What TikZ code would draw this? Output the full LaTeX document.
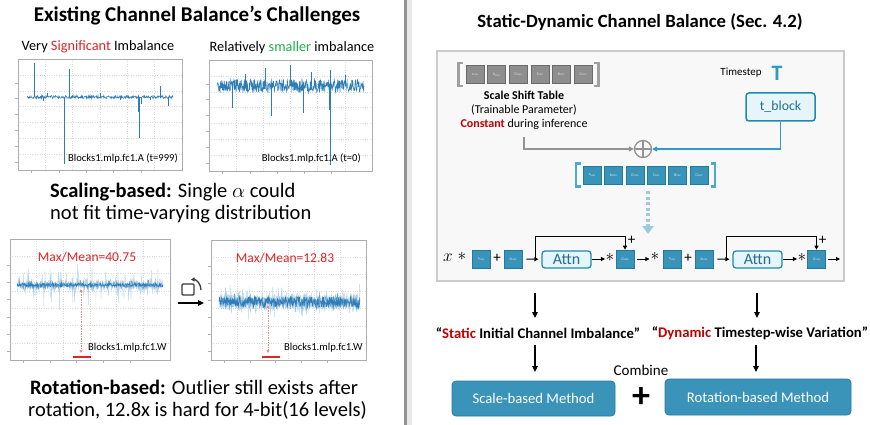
\documentclass[tikz,border=0pt]{standalone}
\usepackage{fontspec}
\setmainfont{Carlito}
\usetikzlibrary{arrows.meta,calc}
\definecolor{noiseblue}{HTML}{2F7DB8}
\definecolor{noiselight}{HTML}{B8D5E9}
\definecolor{noisemid}{HTML}{6FA7CF}
\definecolor{sigred}{HTML}{E02424}
\definecolor{darkred}{HTML}{C00000}
\definecolor{smgreen}{HTML}{22B14C}
\definecolor{boxblue}{HTML}{3A94BA}
\definecolor{boxedge}{HTML}{237A9C}
\definecolor{cyanfill}{HTML}{E6F5FA}
\definecolor{cyanedge}{HTML}{1E8BAA}
\definecolor{cyantext}{HTML}{236F8C}
\definecolor{tblue}{HTML}{2E9AC6}
\definecolor{graybox}{HTML}{8E8E8E}
\definecolor{grayedge}{HTML}{6A6A6A}
\definecolor{panelfill}{HTML}{F8F8F8}
\definecolor{paneledge}{HTML}{CBCBCB}
\definecolor{pinkarrow}{HTML}{E88A8A}
\definecolor{lightarrow}{HTML}{9ACBE3}
\newcommand\boxlab[2]{{\fontsize{4}{4}\selectfont\textit{#1}\raisebox{-0.4pt}{\fontsize{2.6}{3}\selectfont #2}}}
\newcommand\chartbox[4]{%
  \fill[white] (#1,#2) rectangle (#3,#4);
  \foreach \k in {1,...,5} {\draw[gridl] ({#1+(#3-#1)*\k/6},#2) -- ({#1+(#3-#1)*\k/6},#4);
     \draw[gray!60,line width=0.4pt] ({#1+(#3-#1)*\k/6-(#3-#1)/12},#4) -- ++(0,3);}
  \foreach \k in {1,...,6} {\draw[gridl] (#1,{#2+(#4-#2)*\k/7}) -- (#3,{#2+(#4-#2)*\k/7});
     \draw[gray!60,line width=0.4pt] (#1,{#2+(#4-#2)*\k/7+(#4-#2)/14}) -- ++(-3,0);}
}
\begin{document}
\begin{tikzpicture}[x=1pt,y=-1pt,
  gridl/.style={draw=gray!30,dotted,line width=0.4pt},
  frame/.style={draw=gray!65,line width=0.6pt},
  noise/.style={draw=noiseblue,line width=0.55pt},
  noisel/.style={draw=noiselight,line width=0.4pt},
  noisem/.style={draw=noisemid,line width=0.4pt},
  plab/.style={font=\fontsize{10.6}{12}\selectfont,inner sep=1pt},
  ratio/.style={font=\fontsize{13.5}{15}\selectfont,text=sigred},
  pinkarr/.style={draw=pinkarrow,densely dotted,line width=0.7pt,{Triangle[length=3pt,width=3pt]}-{Triangle[length=3pt,width=3pt]}},
  redbar/.style={draw=sigred,line width=1.2pt},
  bigtxt/.style={font=\fontsize{20.5}{23}\selectfont,anchor=west,inner sep=0},
  gbox/.style={draw=grayedge,fill=graybox,line width=0.6pt,minimum width=18,minimum height=18,inner sep=0,text=gray!25},
  bbox/.style={draw=boxedge,fill=boxblue,line width=0.6pt,minimum width=18,minimum height=18,inner sep=0,text=white!80!boxblue},
  cbox/.style={draw=cyanedge,fill=cyanfill,line width=1.3pt,rounded corners=3,inner sep=0,text=cyantext,font=\fontsize{16}{17}\selectfont},
  mbox/.style={draw=boxedge,fill=boxblue,line width=0.8pt,rounded corners=4,inner sep=0,text=white,font=\fontsize{14.7}{16}\selectfont},
  arr/.style={draw=black,line width=0.9pt,-{Triangle[length=4pt,width=4pt]}},
  bigarr/.style={draw=black,line width=1.2pt,-{Triangle[length=6pt,width=5.5pt]}},
  op/.style={inner sep=0,font=\fontsize{15}{16}\selectfont},
  star/.style={inner sep=0,font=\fontsize{17}{18}\selectfont},
  qtxt/.style={font=\bfseries\fontsize{14.7}{16}\selectfont,inner sep=0},
  ]
\useasboundingbox (0,0) rectangle (870,425);
\fill[white] (0,0) rectangle (870,425);
% divider
\fill[gray!18] (407,0) rectangle (411.5,425);
\draw[line width=2.2pt,color=gray!85] (405.5,0) -- (405.5,425);

% ---------- LEFT ----------
\node[font=\bfseries\fontsize{21}{24}\selectfont] (ltitle) at (197,16) {Existing Channel Balance’s Challenges};
\node[font=\fontsize{14.3}{16}\selectfont] (p1t) at (98,47) {Very \textcolor{sigred}{Significant} Imbalance};
\node[font=\fontsize{14.3}{16}\selectfont] (p2t) at (292,48) {Relatively \textcolor{smgreen}{smaller} imbalance};

% plot 1
\chartbox{18}{59}{182}{170}
\pgfmathsetseed{7}
\draw[noise] plot[domain=27:173,samples=330] (\x,{97+1.5*rand});
\foreach \xx/\yy in {34/63,69/69,64/164,139/138,138/112,141/104,160/86,168/106,47/93,100/93,120/100,150/100,43/101}
  \draw[noise] (\xx,97) -- (\xx,\yy);
\draw[frame] (18,59) rectangle (182,170);
\node[plab,anchor=east] (p1l) at (179,158) {Blocks1.mlp.fc1.A (t=999)};

% plot 2
\chartbox{209}{60}{372}{171}
\pgfmathsetseed{11}
\draw[noise] plot[domain=217:364,samples=480] (\x,{86+6.5*rand});
\foreach \xx/\yy in {232/108,271/116,303/113,330/165,329/110,265/68,290/65,330/70,245/74,311/72,345/75}
  \draw[noise] (\xx,86) -- (\xx,\yy);
\draw[frame] (209,60) rectangle (372,171);
\node[plab,anchor=east] (p2l) at (362,158) {Blocks1.mlp.fc1.A (t=0)};

% scaling text
\node[bigtxt] (sc1) at (50,192) {\textbf{Scaling-based:} Single $\alpha$ could};
\node[bigtxt] (sc2) at (50,214) {not fit time-varying distribution};

% plot 3
\chartbox{10}{239}{170}{360}
\pgfmathsetseed{5}
\draw[noisel] plot[domain=17:163,samples=480] (\x,{285+3*rand+27*rand*rand*rand});
\draw[noisem] plot[domain=17:163,samples=420] (\x,{285+6*rand*rand});
\draw[noise] plot[domain=17:163,samples=300] (\x,{285+1.8*rand});
\draw[frame] (10,239) rectangle (170,360);
\node[ratio] (r1) at (87,257) {Max/Mean=40.75};
\coordinate (a1t) at (81,289);
\coordinate (a1b) at (81,353);
\draw[pinkarr] (a1t) -- (a1b);
\draw[redbar] (73,357) -- (91,357);
\node[plab,anchor=west] (p3l) at (87,348) {Blocks1.mlp.fc1.W};

% rotation icon
\draw[line width=1.3pt,draw=gray!45!black,rounded corners=1] (182,284) rectangle (194,295);
\draw[line width=1.3pt,draw=gray!45!black,-{Triangle[length=3.5pt,width=4pt]}] (201,290) to[out=90,in=0] (191,279.5);
\coordinate (rotL) at (178,303);
\coordinate (rotR) at (204,303);
\draw[bigarr] (rotL) -- (rotR);

% plot 4
\chartbox{211}{240}{366}{360}
\pgfmathsetseed{23}
\draw[noisel] plot[domain=219:360,samples=480] (\x,{302+8*rand+20*rand*rand*rand});
\draw[noisem] plot[domain=219:360,samples=420] (\x,{302+10*rand*rand});
\draw[noise] plot[domain=219:360,samples=360] (\x,{302+5.5*rand});
\draw[frame] (211,240) rectangle (366,360);
\node[ratio] (r2) at (285,258) {Max/Mean=12.83};
\coordinate (a2t) at (268,305);
\coordinate (a2b) at (268,353);
\draw[pinkarr] (a2t) -- (a2b);
\draw[redbar] (262,357) -- (280,357);
\node[plab,anchor=west] (p4l) at (283,348) {Blocks1.mlp.fc1.W};

% rotation text
\node[bigtxt] (ro1) at (30,387) {\textbf{Rotation-based:} Outlier still exists after};
\node[bigtxt] (ro2) at (28,410) {rotation, 12.8x is hard for 4-bit(16 levels)};

% ---------- RIGHT ----------
\node[font=\bfseries\fontsize{18.7}{21}\selectfont] (rtitle) at (640,22) {Static-Dynamic Channel Balance (Sec. 4.2)};
\node[draw=paneledge,fill=panelfill,line width=1.5pt,minimum width=407,minimum height=230,inner sep=0] (panel) at (640.5,166) {};

% scale shift table
\foreach \n/\a/\b [count=\i from 0] in {g1/s/MSA,g2/b/MSA,g3/G/MSA,g4/S/MLP,g5/B/MLP,g6/G/MLP}
  \node[gbox] (\n) at ({475+21.6*\i},74.5) {\boxlab{\a}{\b}};
\draw[draw=gray!75,line width=2.5pt] (463,63) -- (458.5,63) -- (458.5,86) -- (463,86);
\draw[draw=gray!75,line width=2.5pt] (594,63) -- (598.5,63) -- (598.5,86) -- (594,86);
\node[font=\bfseries\fontsize{12}{14}\selectfont] (sst) at (524,95) {Scale Shift Table};
\node[font=\fontsize{12}{14}\selectfont] (tp) at (524,110) {(Trainable Parameter)};
\node[font=\fontsize{12}{14}\selectfont] (cdi) at (524,124.5) {\textcolor{darkred}{\bfseries Constant} during inference};

\node[font=\fontsize{11}{12}\selectfont] (ts) at (741,73) {Timestep};
\node[font=\bfseries\fontsize{22}{24}\selectfont,text=tblue] (T) at (777,73) {T};
\node[cbox,minimum width=69,minimum height=28,font=\fontsize{13.8}{15}\selectfont,line width=1.5pt] (tblock) at (780.5,107) {t\_block};

\node[circle,draw=gray!85,line width=1.3pt,minimum size=17,inner sep=0] (oplus) at (643,149) {};
\draw[draw=gray!85,line width=1.3pt] (oplus.north) -- (oplus.south) (oplus.west) -- (oplus.east);
\coordinate (gstart) at (524,137);
\draw[draw=gray!85,line width=1.5pt,-{Triangle[length=5pt,width=5pt]}] (gstart) |- (oplus.west);
\draw[draw=tblue,line width=1.5pt,-{Triangle[length=5pt,width=5pt]}] (tblock.south) |- (oplus.east);

% blue table
\foreach \n/\a/\b [count=\i from 0] in {c1/s/MSA,c2/b/MSA,c3/G/MSA,c4/S/MLP,c5/B/MLP,c6/G/MLP}
  \node[bbox] (\n) at ({592+21.4*\i},175) {\boxlab{\a}{\b}};
\draw[draw=tblue!85,line width=2.5pt] (580.5,163.5) -- (576,163.5) -- (576,186.5) -- (580.5,186.5);
\draw[draw=tblue!85,line width=2.5pt] (710.5,163.5) -- (715,163.5) -- (715,186.5) -- (710.5,186.5);
\coordinate (dtop) at (648,191);
\coordinate (dbot) at (648,234);
\draw[draw=lightarrow,line width=3.5pt,dash pattern=on 3pt off 2.5pt,-{Triangle[length=8pt,width=11pt]}] (dtop) -- (dbot);

% block row
\node[op,font=\fontsize{19}{20}\selectfont] (xv) at (448,258) {$x$};
\node[star] (st1) at (462,256) {$*$};
\node[bbox] (b1) at (481,259) {\boxlab{s}{MSA}};
\node[op] (pl1) at (497,258) {+};
\node[bbox] (b2) at (513,259) {\boxlab{b}{MSA}};
\node[cbox,minimum width=49,minimum height=17] (attn1) at (566.5,259.5) {Attn};
\node[star] (st2) at (610,257) {$*$};
\node[bbox] (b3) at (625,259) {\boxlab{G}{MSA}};
\node[star] (st3) at (655,256) {$*$};
\node[bbox] (b4) at (672,259) {\boxlab{s}{MSA}};
\node[op] (pl2) at (688,258) {+};
\node[bbox] (b5) at (704,259) {\boxlab{b}{MSA}};
\node[cbox,minimum width=49,minimum height=17] (attn2) at (757.5,259.5) {Attn};
\node[star] (st4) at (802,257) {$*$};
\node[bbox] (b6) at (816.5,259) {\boxlab{G}{MSA}};
\coordinate (rowend) at (840,259);

\draw[arr,shorten <=4pt,shorten >=3pt] (b2) -- (attn1);
\draw[arr,shorten >=0.5pt] (attn1.east |- b3) -- (st2.west |- b3);
\draw[arr,shorten <=3pt,shorten >=1pt] (b3.east) -- (st3.west |- b3);
\draw[arr,shorten <=4pt,shorten >=3pt] (b5) -- (attn2);
\draw[arr,shorten >=0.5pt] (attn2.east |- b6) -- (st4.west |- b6);
\draw[arr,shorten <=2pt] (b6) -- (rowend);
\coordinate (s1) at (535,259);
\coordinate (k1) at (535,236);
\draw[arr] (s1) -- (k1) -| (b3.north);
\coordinate (s2) at (726,259);
\coordinate (k2) at (726,236);
\draw[arr] (s2) -- (k2) -| (b6.north);
\node[op] (sp1) at (631.5,240) {+};
\node[op] (sp2) at (822.5,240) {+};

% below panel
\coordinate (u1t) at (535,293);
\coordinate (u1b) at (535,318);
\coordinate (u2t) at (757,293);
\coordinate (u2b) at (757,318);
\draw[bigarr] (u1t) -- (u1b);
\draw[bigarr] (u2t) -- (u2b);
\node[qtxt] (q1) at (538,333) {“\textcolor{darkred}{Static} Initial Channel Imbalance”};
\node[qtxt] (q2) at (760,333) {“\textcolor{darkred}{Dynamic} Timestep-wise Variation”};
\coordinate (v1t) at (535,345);
\coordinate (v1b) at (535,372);
\coordinate (v2t) at (756,345);
\coordinate (v2b) at (756,372);
\draw[bigarr] (v1t) -- (v1b);
\draw[bigarr] (v2t) -- (v2b);
\node[font=\fontsize{15}{16}\selectfont] (comb) at (641,370) {Combine};
\node[mbox,minimum width=163,minimum height=35] (m1) at (533.5,398.5) {Scale-based Method};
\node[mbox,minimum width=186,minimum height=36] (m2) at (758,397) {Rotation-based Method};
\node[font=\bfseries\fontsize{36}{36}\selectfont,inner sep=0] (bigplus) at (641,398) {+};
\end{tikzpicture}
\end{document}
